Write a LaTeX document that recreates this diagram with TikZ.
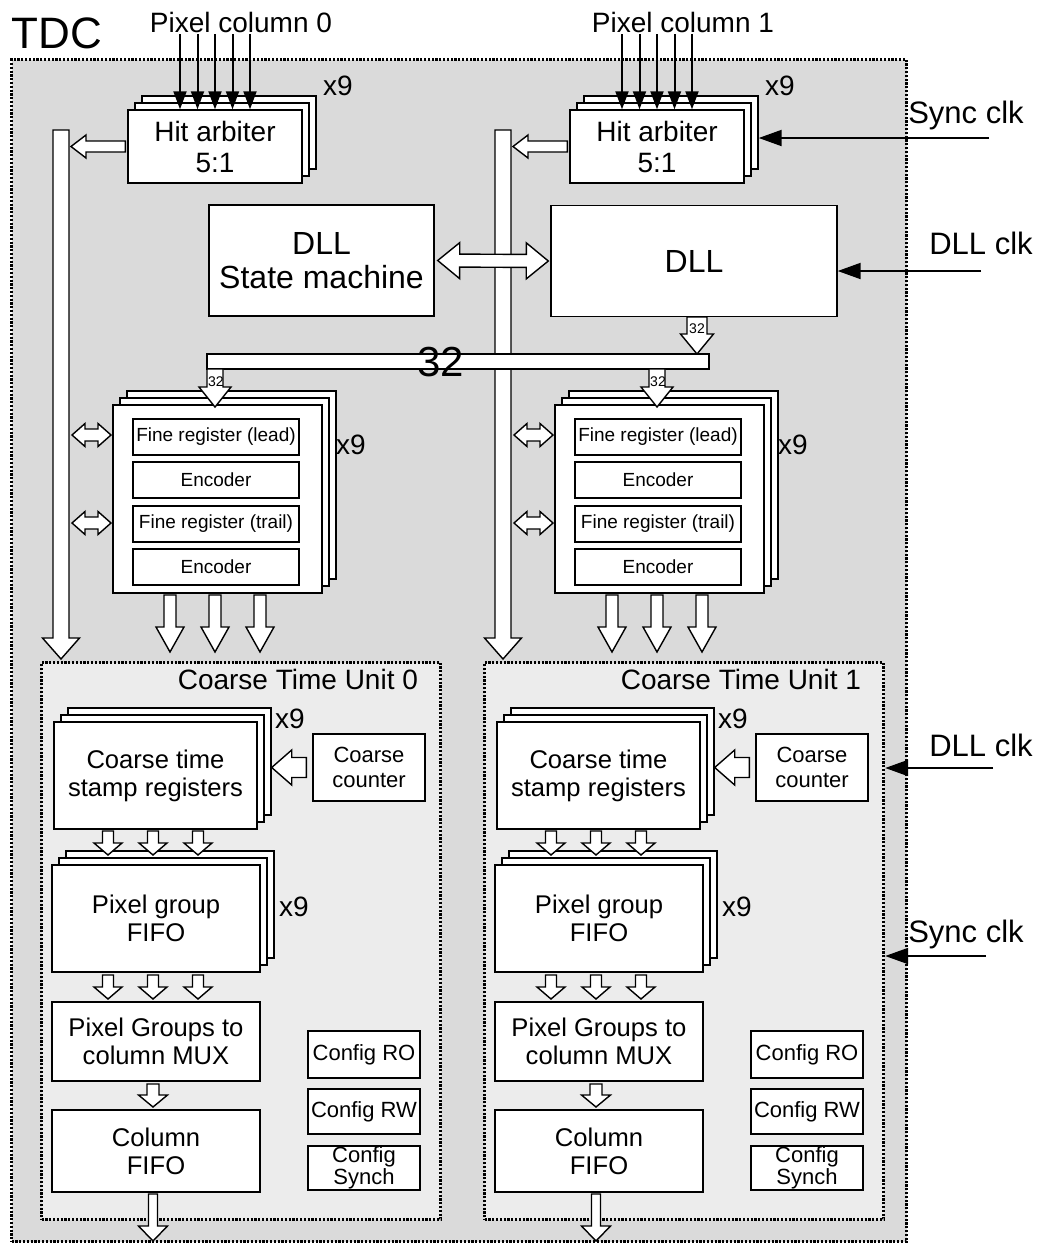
\documentclass[tikz,border=0pt]{standalone}
\usepackage{fontspec}
\setmainfont{Liberation Sans}
\usetikzlibrary{calc,arrows.meta}

\definecolor{tdcgray}{RGB}{218,218,218}
\definecolor{ctugray}{RGB}{236,236,236}

% White block arrow: from, to, half shaft, half head, head length
\newcommand{\fatarrow}[5]{%
  \coordinate (fa-neck) at ($(#2)!#5!(#1)$);
  \draw[fat] ($(#1)!#3!90:(#2)$) -- ($(fa-neck)!#3!90:(#2)$) -- ($(fa-neck)!#4!90:(#2)$) -- (#2)
    -- ($(fa-neck)!#4!-90:(#2)$) -- ($(fa-neck)!#3!-90:(#2)$) -- ($(#1)!#3!-90:(#2)$) -- cycle;
}
% White block arrow with two heads
\newcommand{\fatdarrow}[5]{%
  \coordinate (fa-neck1) at ($(#1)!#5!(#2)$);
  \coordinate (fa-neck2) at ($(#2)!#5!(#1)$);
  \draw[fat] (#1) -- ($(fa-neck1)!#4!90:(#2)$) -- ($(fa-neck1)!#3!90:(#2)$) -- ($(fa-neck2)!#3!90:(#2)$)
    -- ($(fa-neck2)!#4!90:(#2)$) -- (#2) -- ($(fa-neck2)!#4!-90:(#2)$) -- ($(fa-neck2)!#3!-90:(#2)$)
    -- ($(fa-neck1)!#3!-90:(#2)$) -- ($(fa-neck1)!#4!-90:(#2)$) -- cycle;
}

\begin{document}
\begin{tikzpicture}[x=0.5pt, y=-0.5pt,
  box/.style={draw, fill=white, line width=0.7pt, inner sep=0pt, align=center},
  fat/.style={draw, fill=white, line width=0.7pt},
  region/.style={draw, line width=1.6pt, dash pattern=on 1.1pt off 0.8pt, inner sep=0pt},
  sig/.style={line width=1pt, -{Triangle[length=9pt, width=6.5pt]}},
  clk/.style={line width=1pt, -{Triangle[length=11.5pt, width=8pt]}},
  tinytxt/.style={font=\fontsize{7}{8}\selectfont, inner sep=0pt},
  smalltxt/.style={font=\fontsize{9.5}{11}\selectfont},
  cfgtxt/.style={font=\fontsize{11}{12.5}\selectfont},
  midtxt/.style={font=\fontsize{12.8}{14}\selectfont},
  labtxt/.style={font=\fontsize{14}{15.5}\selectfont},
  clktxt/.style={font=\fontsize{15.5}{17}\selectfont},
  dlltxt/.style={font=\fontsize{16}{17}\selectfont},
  bigtxt/.style={font=\fontsize{21}{24}\selectfont, inner sep=0pt},
  tdctxt/.style={font=\fontsize{22}{25}\selectfont}]
% Constants
\def\px{0.5pt} % one pixel of the layout
\def\dx{442} % shift between the two pixel columns
\def\dc{443} % shift between the two coarse time units
\def\lay{7} % offset of the stacked layers

\useasboundingbox (0,0) rectangle (1037,1243);

% TDC region
\node[region, fill=tdcgray, anchor=north west, minimum width=895*\px, minimum height=1182*\px] (tdc) at (10,58) {};
\node[tdctxt] (tdc-label) at (57,33) {TDC};

% Coarse time unit regions
\foreach \col in {0,1} {
    \node[region, fill=ctugray, anchor=north west, minimum width=399*\px, minimum height=557*\px] (ctu-\col) at (40+\col*\dc,661) {};
}

% Both pixel columns
\foreach \col in {0,1} {
    \pgfmathsetmacro\x{\col*\dx}
    \pgfmathsetmacro\xc{\col*\dc}
    % Hit arbiter (stack of three)
    \foreach \k in {2,1} {
        \node[box, minimum width=174*\px, minimum height=73*\px] (hitarb-\col-\k) at (215+\x+\k*\lay,146.5-\k*\lay) {};
    }
    \node[box, labtxt, minimum width=174*\px, minimum height=73*\px] (hitarb-\col) at (215+\x,146.5) {Hit arbiter\\5:1};
    \node[labtxt] (hitarb-x9-\col) at (338+\x,86) {x9};
    \node[labtxt] (pixcol-\col) at (241+\x,22) {Pixel column \col};
    \foreach \i in {0,...,4} {
        \coordinate (hit-\col-\i) at (180+\x+17.5*\i,34);
        \draw[sig] (hit-\col-\i) -- (hit-\col-\i |- hitarb-\col.north);
    }

    % Fine registers (stack of three)
    \foreach \k in {2,1} {
        \node[box, minimum width=209*\px, minimum height=188*\px] (fine-\col-\k) at (217.5+\x+\k*\lay,499-\k*\lay) {};
    }
    \node[box, minimum width=209*\px, minimum height=188*\px] (fine-\col) at (217.5+\x,499) {};
    \foreach \n/\y/\txt in {1/437/{Fine register (lead)}, 2/480/Encoder, 3/524/{Fine register (trail)}, 4/567/Encoder} {
        \node[box, smalltxt, minimum width=166*\px, minimum height=36*\px] (fine-\col-r\n) at (216+\x,\y) {\txt};
    }
    \node[labtxt] (fine-x9-\col) at (351+\x,445) {x9};
    % Ports to the bus
    \foreach \n/\y in {1/435,2/523} {
        \coordinate (port-\col-\n-a) at (72+\x,\y);
        \coordinate (port-\col-\n-b) at (111+\x,\y);
        \fatdarrow{port-\col-\n-a}{port-\col-\n-b}{6*\px}{11.5*\px}{13*\px}
    }
    % Outputs of the fine registers
    \foreach \i in {0,1,2} {
        \coordinate (fout-\col-\i) at (170+\x+45*\i,595);
        \coordinate (fend-\col-\i) at (170+\x+45*\i,652);
        \fatarrow{fout-\col-\i}{fend-\col-\i}{6*\px}{14*\px}{25*\px}
    }

    % Coarse time unit content
    \node[labtxt, anchor=east] (ctu-title-\col) at (425+\xc,679) {Coarse Time Unit \col};
    \foreach \k in {2,1} {
        \node[box, minimum width=203*\px, minimum height=107*\px] (cts-\col-\k) at (155.5+\xc+\k*\lay,775.5-\k*\lay) {};
    }
    \node[box, midtxt, minimum width=203*\px, minimum height=107*\px] (cts-\col) at (155.5+\xc,775.5) {Coarse time\\stamp registers};
    \node[labtxt] (cts-x9-\col) at (290+\xc,719) {x9};
    \node[box, cfgtxt, minimum width=112*\px, minimum height=67*\px] (cnt-\col) at (369+\xc,767.5) {Coarse\\counter};
    \coordinate (cnt-out-\col) at ([xshift=-3pt]cnt-\col.west);
    \coordinate (cts-in-\col) at (cnt-out-\col -| cts-\col-2.east);
    \fatarrow{cnt-out-\col}{cts-in-\col}{10*\px}{17.5*\px}{20*\px}

    \foreach \k in {2,1} {
        \node[box, minimum width=208*\px, minimum height=107*\px] (pgf-\col-\k) at (156+\xc+\k*\lay,918.5-\k*\lay) {};
    }
    \node[box, midtxt, minimum width=208*\px, minimum height=107*\px] (pgf-\col) at (156+\xc,918.5) {Pixel group\\FIFO};
    \node[labtxt] (pgf-x9-\col) at (294+\xc,907) {x9};
    \foreach \i in {0,1,2} {
        \coordinate (cts-out-\col-\i) at (108+\xc+45*\i,831);
        \coordinate (pgf-in-\col-\i) at (108+\xc+45*\i,855);
        \fatarrow{cts-out-\col-\i}{pgf-in-\col-\i}{5.5*\px}{14*\px}{12*\px}
        \coordinate (pgf-out-\col-\i) at (108+\xc+45*\i,975);
        \coordinate (mux-in-\col-\i) at (108+\xc+45*\i,999);
        \fatarrow{pgf-out-\col-\i}{mux-in-\col-\i}{5.5*\px}{14*\px}{12*\px}
    }

    \node[box, midtxt, minimum width=208*\px, minimum height=79*\px] (mux-\col) at (156+\xc,1041.5) {Pixel Groups to\\column MUX};
    \node[box, midtxt, minimum width=208*\px, minimum height=82*\px] (colfifo-\col) at (156+\xc,1151) {Column\\FIFO};
    \coordinate (mux-out-\col) at (153+\xc,1084);
    \coordinate (colfifo-in-\col) at (153+\xc,1107);
    \fatarrow{mux-out-\col}{colfifo-in-\col}{6*\px}{14.5*\px}{12*\px}
    \coordinate (colfifo-out-\col) at (153+\xc,1194);
    \coordinate (col-end-\col) at (153+\xc,1241);
    \fatarrow{colfifo-out-\col}{col-end-\col}{4.5*\px}{14.5*\px}{15*\px}

    % Configuration registers
    \node[box, cfgtxt, minimum width=112*\px, minimum height=47*\px] (cfgro-\col) at (364+\xc,1054.5) {Config RO};
    \node[box, cfgtxt, minimum width=112*\px, minimum height=45*\px] (cfgrw-\col) at (364+\xc,1111.5) {Config RW};
    \node[box, font=\fontsize{11}{11}\selectfont, minimum width=112*\px, minimum height=44*\px] (cfgsy-\col) at (364+\xc,1168) {Config\\Synch};
}

% Vertical buses of the columns
\foreach \col in {0,1} {
    \pgfmathsetmacro\x{\col*\dx}
    \coordinate (bus-top-\col) at (61+\x,130);
    \coordinate (bus-end-\col) at (61+\x,659);
    \fatarrow{bus-top-\col}{bus-end-\col}{8*\px}{18.5*\px}{21*\px}
    \coordinate (arb-out-\col) at ([xshift=-1pt]hitarb-\col.west);
    \coordinate (bus-in-\col) at (71+\x,146.5);
    \fatarrow{arb-out-\col}{bus-in-\col}{5.5*\px}{11.5*\px}{15*\px}
}

% DLL and its state machine
\node[box, dlltxt, minimum width=225*\px, minimum height=111*\px] (dllsm) at (321.5,260.5) {DLL\\State machine};
\node[box, dlltxt, minimum width=286*\px, minimum height=111*\px] (dll) at (694,261) {DLL};
\coordinate (sm-port) at ([xshift=1.5pt]dllsm.east);
\coordinate (dll-port) at ([xshift=-1pt]dll.west);
\fatdarrow{sm-port}{dll-port}{6.5*\px}{18*\px}{22*\px}

% 32 bit bus
\coordinate (dll-out) at (697,317);
\coordinate (bus32-in) at (697,354);
\fatarrow{dll-out}{bus32-in}{10*\px}{16.5*\px}{20*\px}
\node[tinytxt] (dll-out-w) at (697,329) {32};
\node[box, minimum width=502*\px, minimum height=15*\px] (bus32) at (458,361.5) {};
\foreach \col in {0,1} {
    \pgfmathsetmacro\x{\col*\dx}
    \coordinate (bus32-out-\col) at (215+\x,369);
    \coordinate (fine-in-\col) at (215+\x,407);
    \fatarrow{bus32-out-\col}{fine-in-\col}{8*\px}{16*\px}{20*\px}
    \node[tinytxt] (fine-in-w-\col) at (216+\x,382) {32};
}
\node[bigtxt] (bus32-label) at (441,362) {32};

% Clocks
\node[clktxt] (syncclk-0) at (966,115) {Sync clk};
\coordinate (syncclk-0-in) at (989,138);
\draw[clk] (syncclk-0-in) -- (syncclk-0-in -| hitarb-1-2.east);
\node[clktxt] (dllclk-0) at (981,243) {DLL clk};
\coordinate (dllclk-0-in) at (981,271);
\draw[clk] (dllclk-0-in) -- (dllclk-0-in -| dll.east);
\node[clktxt] (dllclk-1) at (981,745) {DLL clk};
\coordinate (dllclk-1-in) at (993,768);
\draw[clk] (dllclk-1-in) -- (dllclk-1-in -| ctu-1.east);
\node[clktxt] (syncclk-1) at (966,934) {Sync clk};
\coordinate (syncclk-1-in) at (986,956);
\draw[clk] (syncclk-1-in) -- (syncclk-1-in -| ctu-1.east);

\end{tikzpicture}
\end{document}
